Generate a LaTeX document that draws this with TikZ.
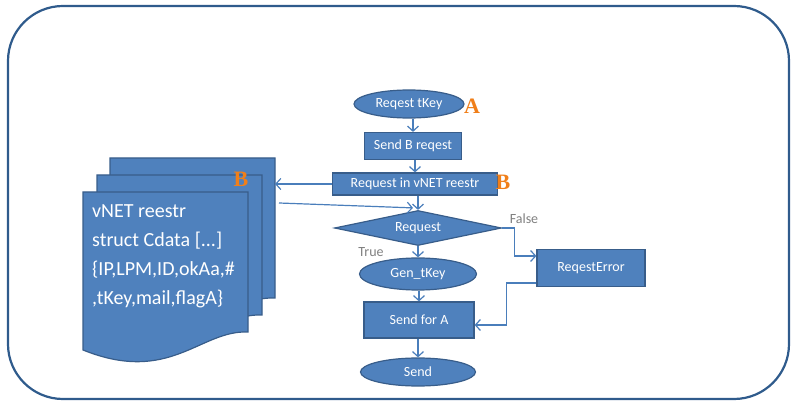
\documentclass[tikz,border=0pt]{standalone}
\usepackage{fontspec}
\setmainfont{Carlito}
\newfontfamily\letterfont{Liberation Serif}
\usetikzlibrary{shapes.geometric,arrows.meta,calc}
\definecolor{fillblue}{HTML}{4F81BD}
\definecolor{edgeblue}{HTML}{385D8A}
\definecolor{lineblue}{HTML}{4A7EBB}
\definecolor{frameblue}{HTML}{2F5B8C}
\definecolor{letterorange}{HTML}{F07F1A}
\begin{document}
\begin{tikzpicture}[x=1pt,y=-1pt,
  shapebox/.style={draw=edgeblue, line width=1.2pt, fill=fillblue, text=white,
    font=\fontsize{14}{16}\selectfont, inner sep=0pt},
  rectbox/.style={shapebox, rectangle},
  ellbox/.style={shapebox, ellipse},
  diabox/.style={shapebox, diamond, aspect=4.8},
  arr/.style={draw=lineblue, line width=1.2pt, -{Straight Barb[length=5pt,width=11pt]}},
  glabel/.style={text=gray, font=\fontsize{14}{16}\selectfont, inner sep=0pt},
  mark letter/.style={text=letterorange, font=\letterfont\bfseries\fontsize{22}{22}\selectfont, inner sep=0pt},
  sheet/.style={draw=edgeblue, line width=1.2pt, fill=fillblue}
]
\useasboundingbox (0,0) rectangle (795,403);
% outer frame
\draw[frameblue, line width=2.2pt, rounded corners=55pt] (8,6) rectangle (789,399);

% document stack
\foreach \dx/\dy in {27/-34, 14/-17, 0/0}{
  \begin{scope}[shift={(\dx,\dy)}]
    \path[sheet] (83,192) -- (248,192) -- (248,332)
      .. controls (200,330) and (170,385) .. (83,350) -- cycle;
  \end{scope}
}
\node[text=white, font=\fontsize{20}{29}\selectfont, align=left, anchor=north west, inner sep=0pt]
  (doctext) at (92,204) {vNET reestr\\struct Cdata [...]\\\{IP,LPM,ID,okAa,\#\\,tKey,mail,flagA\}};
\node[mark letter] (letterB1) at (241,179) {B};
\coordinate (docA) at (275,184);
\coordinate (docB) at (279,203);

% flow nodes
\node[ellbox, minimum width=110pt, minimum height=28pt] (reqt) at (409,104) {Reqest tKey};
\node[rectbox, minimum width=97pt, minimum height=27pt] (sendB) at (413,146) {Send B reqest};
\node[rectbox, minimum width=165pt, minimum height=22pt] (reqv) at (415,184) {Request in vNET reestr};
\node[diabox, minimum width=167pt, minimum height=35pt] (dia) at (418,228) {Request};
\node[ellbox, minimum width=117pt, minimum height=32pt] (gen) at (418,274) {Gen\_tKey};
\node[rectbox, minimum width=110pt, minimum height=36pt] (sendA) at (419,320) {Send for A};
\node[ellbox, minimum width=115pt, minimum height=28pt] (send) at (418,372) {Send};
\node[rectbox, minimum width=108pt, minimum height=37pt] (err) at (591,268) {ReqestError};

\node[mark letter] (letterA) at (472,106) {A};
\node[mark letter] (letterB2) at (503,182) {B};

\node[glabel] (falselbl) at (524,219) {False};
\node[glabel] (truelbl) at (371,252) {True};

% connectors
\draw[arr] (reqt.south -| sendB.north) -- (sendB.north);
\draw[arr] (sendB.south -| reqv.north) -- (reqv.north);
\draw[arr] (reqv.south -| dia.north) -- (dia.north);
\draw[arr] (reqv.west) -- (docA);
\draw[arr] (docB) -- ($(dia.north)+(-5,-2)$);
\draw[arr] (dia.east) -- ++(12,0) |- ($(err.west)+(0,-12)$);
\draw[arr] (dia.south) -- (gen.north);
\draw[arr] (gen.south -| sendA.north) -- (sendA.north);
\draw[arr] (sendA.south -| send.north) -- (send.north);
\draw[arr] ($(err.west)+(0,15)$) -- ++(-30,0) |- ($(sendA.east)+(0,5)$);
\end{tikzpicture}
\end{document}
